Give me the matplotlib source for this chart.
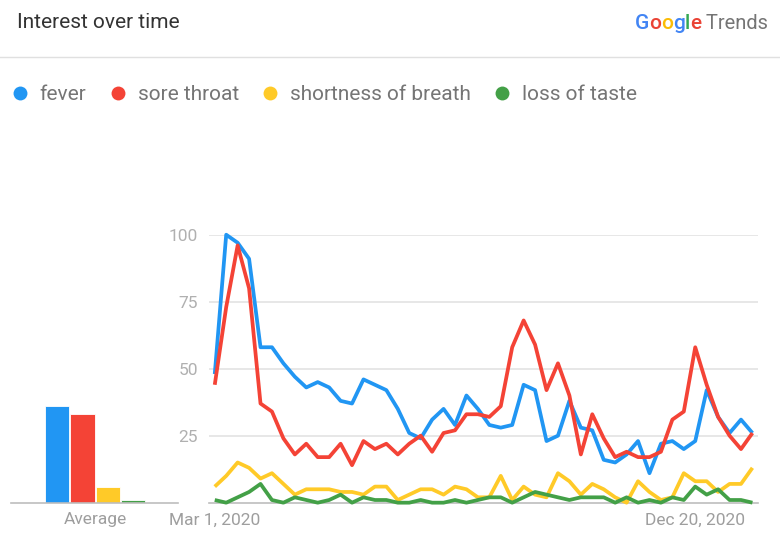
# Google Trends style chart: interest over time for four symptom searches
import numpy as np
import pandas as pd
import matplotlib
matplotlib.use('Agg')
from matplotlib import pyplot as plt
from matplotlib.lines import Line2D
from matplotlib.offsetbox import TextArea, HPacker, AnchoredOffsetbox

plt.rcParams['font.family'] = ['Roboto', 'DejaVu Sans']

# weekly data points, first week Mar 1, 2020
weeks = pd.date_range('2020-03-01', periods=48, freq='7D')

fever = [48, 100, 97, 91, 58, 58, 52, 47, 43, 45, 43, 38, 37, 46, 44, 42,
         35, 26, 24, 31, 35, 29, 40, 35, 29, 28, 29, 44, 42, 23, 25, 38,
         28, 27, 16, 15, 18, 23, 11, 22, 23, 20, 23, 42, 32, 26, 31, 26]
sore_throat = [44, 73, 96, 80, 37, 34, 24, 18, 22, 17, 17, 22, 14, 23, 20, 22,
               18, 22, 25, 19, 26, 27, 33, 33, 32, 36, 58, 68, 59, 42, 52, 40,
               18, 33, 24, 17, 19, 17, 17, 19, 31, 34, 58, 44, 32, 25, 20, 26]
shortness = [6, 10, 15, 13, 9, 11, 7, 3, 5, 5, 5, 4, 4, 3, 6, 6,
             1, 3, 5, 5, 3, 6, 5, 2, 2, 10, 1, 6, 3, 2, 11, 8,
             3, 7, 5, 2, 0, 8, 4, 1, 2, 11, 8, 8, 4, 7, 7, 13]
loss_taste = [1, 0, 2, 4, 7, 1, 0, 2, 1, 0, 1, 3, 0, 2, 1, 1,
              0, 0, 1, 0, 0, 1, 0, 1, 2, 2, 0, 2, 4, 3, 2, 1,
              2, 2, 2, 0, 2, 0, 1, 0, 2, 1, 6, 3, 5, 1, 1, 0]

terms = ['fever', 'sore throat', 'shortness of breath', 'loss of taste']
averages = [36, 33, 6, 1]
colors = ['#2196F3', '#F44336', '#FFCA28', '#43A047']
tick_dates = ['2020-03-01', '2020-12-20']
tick_labels = ['Mar 1, 2020', 'Dec 20, 2020']

grey = '#9e9e9e'

fig = plt.figure(figsize=(7.8, 5.48), dpi=100)

# header
fig.text(0.0224, 0.959, 'Interest over time', fontsize=15, color='#333333',
         va='center', ha='left')
fig.add_artist(Line2D([0, 1], [0.8954, 0.8954], transform=fig.transFigure,
                      color='#e0e0e0', lw=1))

# Google Trends logo
logo_letters = [('G', '#4285F4'), ('o', '#EA4335'), ('o', '#FBBC05'),
                ('g', '#4285F4'), ('l', '#34A853'), ('e', '#EA4335')]
parts = [TextArea(ch, textprops=dict(color=c, fontsize=15, fontweight='medium'))
         for ch, c in logo_letters]
parts.append(TextArea(' Trends', textprops=dict(color='#757575', fontsize=14.5)))
logo = AnchoredOffsetbox(loc='center right', child=HPacker(children=parts, sep=0, pad=0),
                         bbox_to_anchor=(0.985, 0.957), bbox_transform=fig.transFigure,
                         frameon=False, pad=0, borderpad=0)
fig.add_artist(logo)

# legend
handles = [Line2D([], [], marker='o', ls='none', markersize=10, color=c,
                  markeredgewidth=0) for c in colors]
leg = fig.legend(handles, terms, loc='center left', bbox_to_anchor=(0.0177, 0.827),
                 ncol=4, frameon=False, fontsize=15, handlelength=0.6, borderpad=0,
                 borderaxespad=0, handletextpad=0.65, columnspacing=1.2,
                 labelcolor='#757575')

# average bars
axb = fig.add_axes([0.0141, 0.0827, 0.214, 0.489])
axb.bar(np.arange(4), averages, width=0.96, color=colors, edgecolor='white', linewidth=0.6)
axb.set_xlim(-1.81, 4.76)
axb.set_ylim(0, 100)
axb.set_xticks([1.5])
axb.set_xticklabels(['Average'])
axb.set_yticks([])
for s in ['top', 'right', 'left']:
    axb.spines[s].set_visible(False)
axb.spines['bottom'].set_color('#bdbdbd')
axb.spines['bottom'].set_linewidth(1.2)
axb.tick_params(axis='x', length=0, pad=7, labelsize=12.5, labelcolor=grey)

# main line chart
ax = fig.add_axes([0.268, 0.0827, 0.704, 0.489])
for series, c in zip([fever, sore_throat, shortness, loss_taste], colors):
    ax.plot(weeks, series, color=c, lw=2.7, clip_on=False,
            solid_joinstyle='round', solid_capstyle='butt', zorder=3)
step = weeks[1] - weeks[0]
ax.set_xlim(weeks[0] - step / 2, weeks[-1] + step / 2)
ax.set_ylim(0, 100)
ax.set_yticks([25, 50, 75, 100])
ax.grid(axis='y', color='#e0e0e0', lw=1.1)
ax.set_axisbelow(True)
ax.set_xticks(pd.to_datetime(tick_dates))
ax.set_xticklabels(tick_labels)
for s in ['top', 'right', 'left']:
    ax.spines[s].set_visible(False)
ax.spines['bottom'].set_color('#bdbdbd')
ax.spines['bottom'].set_linewidth(1.2)
ax.tick_params(axis='x', length=0, pad=7, labelsize=12.5, labelcolor=grey)
ax.tick_params(axis='y', length=0, pad=8, labelsize=12.5, labelcolor='#b0b0b0')

fig.savefig('out.png', dpi=100)
